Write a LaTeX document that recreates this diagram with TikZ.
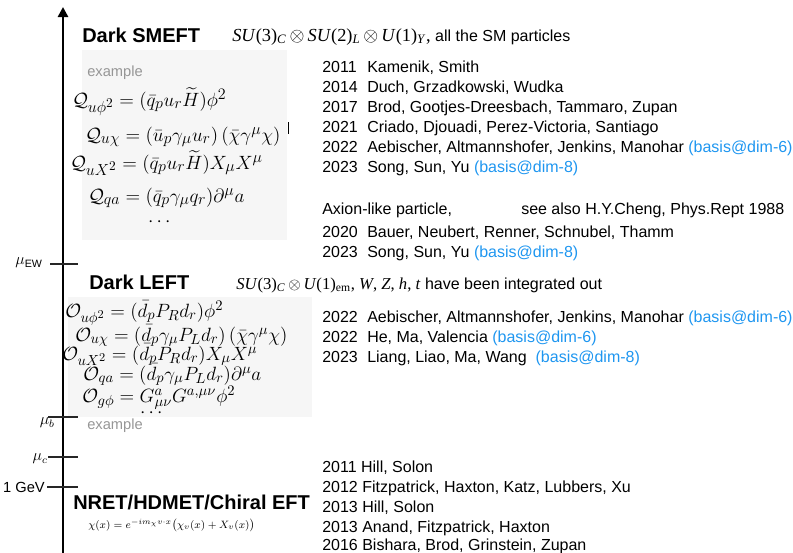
\documentclass[tikz,border=0pt]{standalone}
\usepackage{fontspec}
\setmainfont{Liberation Sans}
\newfontfamily\tms{Liberation Serif}
\usepackage{amsmath}
\usetikzlibrary{arrows.meta}
\DeclareMathSizes{15}{15}{12}{10}
\DeclareMathSizes{14}{14}{11}{9}
\definecolor{basisblue}{RGB}{30,150,240}
\definecolor{boxgray}{RGB}{246,246,246}
\definecolor{exgray}{RGB}{150,150,150}
\newcommand{\bas}[1]{\textcolor{basisblue}{(basis@dim-#1)}}
\tikzset{
  reftext/.style={anchor=base west, inner sep=0pt, font=\fontsize{12}{14}\selectfont},
  titletext/.style={anchor=base west, inner sep=0pt, font=\fontsize{15}{18}\selectfont\bfseries},
  hdrtext/.style={anchor=base west, inner sep=0pt, font=\fontsize{12}{14}\selectfont},
  eqsmeft/.style={anchor=base west, inner sep=0pt, font=\fontsize{15}{17}\selectfont},
  eqleft/.style={anchor=base west, inner sep=0pt, font=\fontsize{14}{16}\selectfont},
  exlabel/.style={anchor=base west, inner sep=0pt, text=exgray, font=\fontsize{11}{13}\selectfont},
  scalelabel/.style={anchor=east, inner sep=0pt, font=\fontsize{12}{14}\selectfont},
  tickline/.style={line width=1.1pt, black!85},
  axisline/.style={line width=1.9pt, -{Triangle[length=7.5pt,width=7.5pt]}},
  opbox/.style={fill=boxgray, draw=none},
}
\begin{document}
\begin{tikzpicture}[x=0.75pt,y=-0.75pt]
\useasboundingbox (0,0) rectangle (793,553);
% grey boxes
\path[opbox] (82,50) rectangle (287,240);
\path[opbox] (68,297) rectangle (312,417);

% axis
\coordinate (axbot) at (63,553);
\coordinate (axtop) at (63,7);
\draw[axisline] (axbot) -- (axtop);

% ticks
\coordinate (tEWa) at (50,264); \coordinate (tEWb) at (78,264);
\coordinate (tba) at (48,417); \coordinate (tbb) at (78,417);
\coordinate (tca) at (48,457); \coordinate (tcb) at (78,457);
\coordinate (tga) at (47,487); \coordinate (tgb) at (78,487);
\draw[tickline] (tEWa) -- (tEWb);
\draw[tickline] (tba) -- (tbb);
\draw[tickline] (tca) -- (tcb);
\draw[tickline] (tga) -- (tgb);
\node[scalelabel] (lEW) at (43,263) {$\mu_{\rm EW}$};
\node[scalelabel] (lb) at (55,423) {$\mu_b$};
\node[scalelabel] (lc) at (48,459) {$\mu_c$};
\node[scalelabel, font=\fontsize{11}{13}\selectfont] (lg) at (45,487) {1 GeV};

% titles
\node[titletext] (smeft) at (82,42) {Dark SMEFT};
\node[titletext] (left) at (89,289) {Dark LEFT};
\node[titletext] (nret) at (73,509) {NRET/HDMET/Chiral EFT};

% headers
\node[hdrtext] (hsmeft) at (232,41) {{\tms\fontsize{13.8}{15}\selectfont\textit{SU}(3)\textsubscript{\textit{C}}\,$\otimes$\,\textit{SU}(2)\textsubscript{\textit{L}}\,$\otimes$\,\textit{U}(1)\textsubscript{\textit{Y}},} all the SM particles};
\node[hdrtext] (hleft) at (236,289) {{\tms\fontsize{12.5}{15}\selectfont\textit{SU}(3)\textsubscript{\textit{C}}\,$\otimes$\,\textit{U}(1)\textsubscript{em}, \textit{W}, \textit{Z}, \textit{h}, \textit{t}} have been integrated out};

% SMEFT operators
\node[exlabel] (exs) at (87,76) {example};
\node[eqsmeft] (q1) at (72,106) {$\mathcal{Q}_{u\phi^2}=(\bar q_p u_r \widetilde H)\phi^2$};
\node[eqsmeft] (q2) at (85,141) {$\mathcal{Q}_{u\chi}=(\bar u_p \gamma_\mu u_r)\,(\bar\chi\gamma^\mu\chi)$};
\node[eqsmeft] (q3) at (70,169) {$\mathcal{Q}_{uX^2}=(\bar q_p u_r \widetilde H)X_\mu X^\mu$};
\node[eqsmeft] (q4) at (88,202) {$\mathcal{Q}_{qa}=(\bar q_p \gamma_\mu q_r)\partial^\mu a$};
\node[eqsmeft, anchor=center] (qdots) at (161,222) {$\cdots$};
\draw[line width=0.6pt] (288,122) -- (288,134);

% LEFT operators
\node[eqleft] (o1) at (65,317) {$\mathcal{O}_{u\phi^2}=(\bar d_p P_R d_r)\phi^2$};
\node[eqleft] (o2) at (75,341) {$\mathcal{O}_{u\chi}=(\bar d_p \gamma_\mu P_L d_r)\,(\bar\chi\gamma^\mu\chi)$};
\node[eqleft] (o3) at (62,360) {$\mathcal{O}_{uX^2}=(\bar d_p P_R d_r)X_\mu X^\mu$};
\node[eqleft] (o4) at (83,380) {$\mathcal{O}_{qa}=(\bar d_p \gamma_\mu P_L d_r)\partial^\mu a$};
\node[eqleft] (o5) at (82,402) {$\mathcal{O}_{g\phi}=G^a_{\mu\nu}G^{a,\mu\nu}\phi^2$};
\node[eqleft, anchor=center] (odots) at (153,413) {$\cdots$};
\node[exlabel] (exl) at (87,429) {example};

% NRET formula
\node[anchor=base west, inner sep=0pt, font=\fontsize{8.3}{10}\selectfont] (chi) at (88,528) {$\chi(x)=e^{-im_\chi v\cdot x}\big(\chi_v(x)+X_v(x)\big)$};

% SMEFT references
\node[reftext] (y1) at (322,72) {2011}; \node[reftext] (n1) at (367,72) {Kamenik, Smith};
\node[reftext] (y2) at (322,92) {2014}; \node[reftext] (n2) at (367,92) {Duch, Grzadkowski, Wudka};
\node[reftext] (y3) at (322,112) {2017}; \node[reftext] (n3) at (367,112) {Brod, Gootjes-Dreesbach, Tammaro, Zupan};
\node[reftext] (y4) at (322,132) {2021}; \node[reftext] (n4) at (367,132) {Criado, Djouadi, Perez-Victoria, Santiago};
\node[reftext] (y5) at (322,152) {2022}; \node[reftext] (n5) at (367,152) {Aebischer, Altmannshofer, Jenkins, Manohar \bas{6}};
\node[reftext] (y6) at (322,172) {2023}; \node[reftext] (n6) at (367,172) {Song, Sun, Yu \bas{8}};
\node[reftext] (alp) at (322,214) {Axion-like particle,};
\node[reftext] (cheng) at (521,214) {see also H.Y.Cheng, Phys.Rept 1988};
\node[reftext] (y7) at (322,237) {2020}; \node[reftext] (n7) at (367,237) {Bauer, Neubert, Renner, Schnubel, Thamm};
\node[reftext] (y8) at (322,257) {2023}; \node[reftext] (n8) at (367,257) {Song, Sun, Yu \bas{8}};

% LEFT references
\node[reftext] (y9) at (322,322) {2022}; \node[reftext] (n9) at (367,322) {Aebischer, Altmannshofer, Jenkins, Manohar \bas{6}};
\node[reftext] (y10) at (322,342) {2022}; \node[reftext] (n10) at (367,342) {He, Ma, Valencia \bas{6}};
\node[reftext] (y11) at (322,362) {2023}; \node[reftext] (n11) at (367,362) {Liang, Liao, Ma, Wang\ \ \bas{8}};

% Chiral references
\node[reftext] (c1) at (322,472) {2011 Hill, Solon};
\node[reftext] (c2) at (322,492) {2012 Fitzpatrick, Haxton, Katz, Lubbers, Xu};
\node[reftext] (c3) at (322,512) {2013 Hill, Solon};
\node[reftext] (c4) at (322,532) {2013 Anand, Fitzpatrick, Haxton};
\node[reftext] (c5) at (322,550.5) {2016 Bishara, Brod, Grinstein, Zupan};
\end{tikzpicture}
\end{document}
